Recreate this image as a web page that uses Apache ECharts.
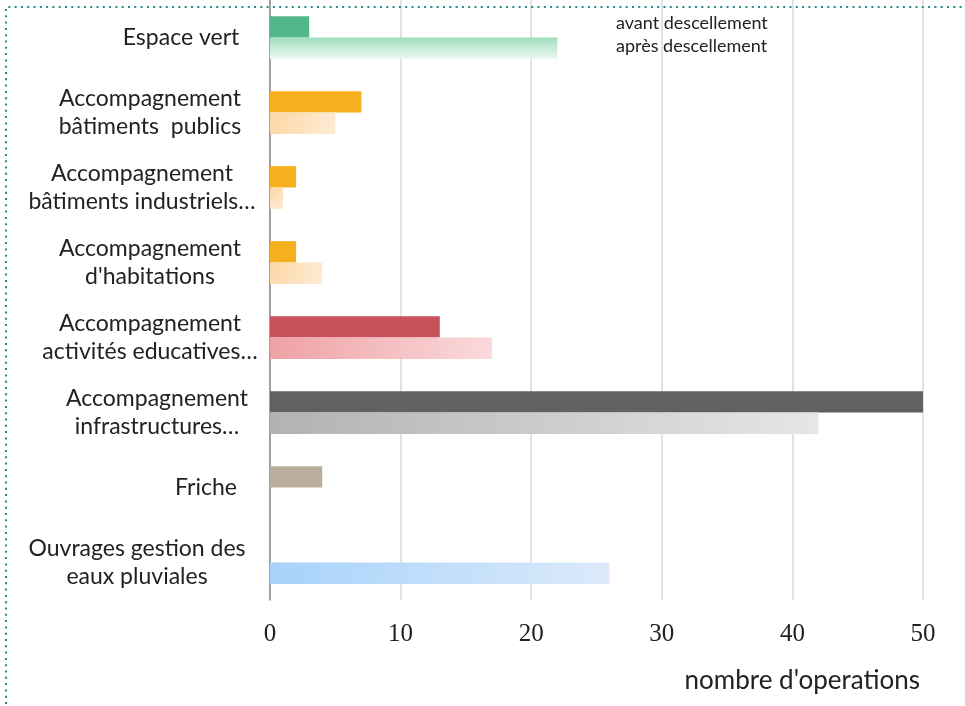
<!DOCTYPE html>
<html>
<head>
<meta charset="utf-8">
<style>
  html, body { margin: 0; padding: 0; background: #fff; }
  #chart { width: 965px; height: 706px; }
</style>
<script src="https://cdn.jsdelivr.net/npm/echarts@6/dist/echarts.min.js"></script>
</head>
<body>
<div id="chart"></div>
<script>
// données
const categories = [
  'Espace vert',
  'Accompagnement\nbâtiments  publics',
  'Accompagnement\nbâtiments industriels…',
  'Accompagnement\nd\'habitations',
  'Accompagnement\nactivités educatives…',
  'Accompagnement\ninfrastructures…',
  'Friche',
  'Ouvrages gestion des\neaux pluviales'
]
const avant = [3, 7, 2, 2, 13, 50, 4, 0]
const apres = [22, 5, 1, 4, 17, 42, 0, 26]
const xTicks = [0, 10, 20, 30, 40, 50]
const seriesNames = ['avant descellement', 'après descellement']
const axisTitle = 'nombre d\'operations'

// couleurs par catégorie
const solidColors = ['#52b788', '#f6b01e', '#f6b01e', '#f6b01e', '#c9525a', '#616161', '#bcae9f', '#a9d3fb']
const lightColors = [
  ['#9fdebd', '#eef8f2', 0, 0, 0, 1],
  ['#fdd7a4', '#feecd6', 0, 0, 1, 1],
  ['#fdd7a4', '#feecd6', 0, 0, 1, 1],
  ['#fdd7a4', '#feecd6', 0, 0, 1, 1],
  ['#eea1a5', '#fadadb', 0, 0, 1, 1],
  ['#b2b2b2', '#e6e6e6', 0, 0, 1, 0],
  ['#d6ccc2', '#eee9e4', 0, 0, 1, 1],
  ['#a7d2fb', '#dceafa', 0, 0, 1, 1]
]
// décalage horizontal des libellés (padding haut, droite, bas, gauche)
const labelShift = [[0, 0, 0, 62], null, [0, 16, 0, 0], null, null, [0, 0, 0, 14], [0, 0, 0, 112], [0, 26, 0, 0]]

const chart = echarts.init(document.getElementById('chart'))

const option = {
  backgroundColor: '#fff',
  animation: false,
  grid: { left: 270, right: 42, top: 0, bottom: 106, containLabel: false, outerBoundsMode: 'none' },
  title: {
    text: axisTitle,
    right: 40,
    top: 663,
    textStyle: { fontFamily: 'Lato', fontWeight: 'normal', fontSize: 26, color: '#222' }
  },
  legend: {
    data: seriesNames,
    orient: 'vertical',
    left: 606,
    top: 9,
    itemWidth: 0,
    itemHeight: 18,
    itemGap: 5,
    icon: 'rect',
    selectedMode: false,
    textStyle: { fontFamily: 'Lato', fontSize: 18, color: '#222' }
  },
  xAxis: {
    type: 'value',
    min: 0,
    max: 50,
    interval: 10,
    axisLine: { show: false },
    axisTick: { show: false },
    splitLine: { show: true, lineStyle: { color: '#d9d9d9', width: 1.5 } },
    axisLabel: {
      margin: 22,
      fontFamily: 'Liberation Serif',
      fontSize: 25,
      color: '#222',
      formatter: v => xTicks.includes(v) ? String(v) : ''
    }
  },
  yAxis: {
    type: 'category',
    inverse: true,
    data: categories.map((c, i) => labelShift[i]
      ? { value: c, textStyle: { align: 'center', padding: labelShift[i] } }
      : c),
    axisLine: { show: true, lineStyle: { color: '#8a8a8a', width: 1.5 } },
    axisTick: { show: false },
    axisLabel: {
      margin: 120,
      align: 'center',
      fontFamily: 'Lato',
      fontSize: 23,
      lineHeight: 28,
      color: '#222'
    }
  },
  series: [
    {
      name: seriesNames[0],
      type: 'bar',
      barGap: '0%',
      barCategoryGap: '43%',
      itemStyle: { color: solidColors[0] },
      data: avant.map((v, i) => ({ value: v, itemStyle: { color: solidColors[i] } }))
    },
    {
      name: seriesNames[1],
      type: 'bar',
      itemStyle: { color: lightColors[0][0] },
      data: apres.map((v, i) => {
        const g = lightColors[i]
        return {
          value: v,
          itemStyle: {
            color: new echarts.graphic.LinearGradient(g[2], g[3], g[4], g[5], [
              { offset: 0, color: g[0] },
              { offset: 1, color: g[1] }
            ])
          }
        }
      })
    }
  ],
  graphic: [
    {
      type: 'polyline',
      silent: true,
      z: 100,
      shape: { points: [[6, 704], [6, 7], [965, 7]] },
      style: { stroke: '#1f8c88', lineWidth: 2, lineDash: [2, 4.3], fill: null }
    }
  ]
}

chart.setOption(option)
window.addEventListener('resize', () => {
  chart.resize()
})
</script>
</body>
</html>
